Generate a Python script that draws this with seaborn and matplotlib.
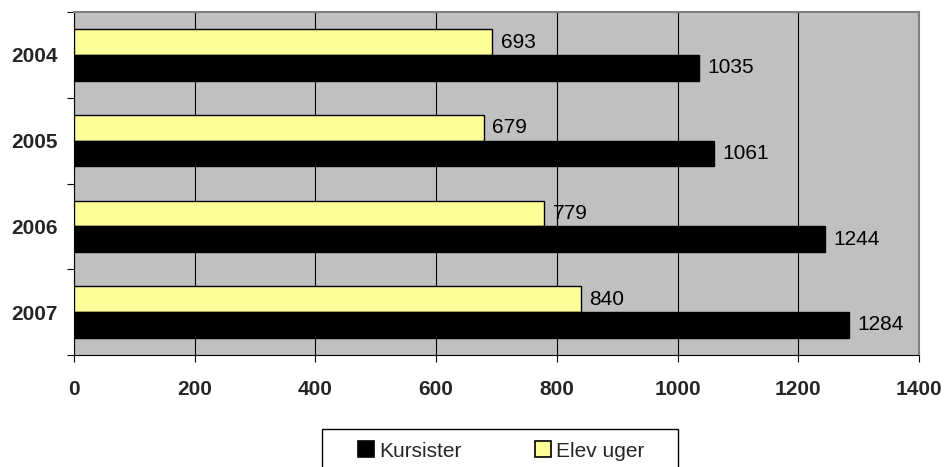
import matplotlib
matplotlib.use("Agg")
import matplotlib.pyplot as plt
from matplotlib.patches import Patch, Rectangle
from matplotlib.ticker import FixedLocator, NullFormatter
import seaborn as sns
import pandas as pd

years = ["2004", "2005", "2006", "2007"]
kursister = [1035, 1061, 1244, 1284]
elev_uger = [693, 679, 779, 840]
series_names = ["Kursister", "Elev uger"]
series_colors = {"Kursister": "#000000", "Elev uger": "#FFFF99"}
x_ticks = [0, 200, 400, 600, 800, 1000, 1200, 1400]

df = pd.DataFrame({
    "year": years * 2,
    "value": kursister + elev_uger,
    "series": ["Kursister"] * len(years) + ["Elev uger"] * len(years),
})

sns.set_style("white")
plt.rcParams["font.family"] = ["Liberation Sans", "DejaVu Sans"]

W, H = 944, 467
fig = plt.figure(figsize=(W / 100, H / 100), dpi=100)
ax = fig.add_axes([0.0784, 0.2398, 0.8951, 0.7345])
ax.set_facecolor("#C0C0C0")

sns.barplot(
    data=df, y="year", x="value", hue="series", order=years,
    hue_order=["Elev uger", "Kursister"], palette=series_colors,
    saturation=1, orient="h", width=0.6, edgecolor="black", linewidth=1.0,
    dodge=True, legend=False, ax=ax, zorder=3,
)

for cont in ax.containers:
    ax.bar_label(cont, fmt="%d", padding=6, fontsize=15, color="black")

ax.set_xlim(0, 1400)
ax.set_ylim(3.5, -0.5)
ax.xaxis.set_major_locator(FixedLocator(x_ticks))
ax.set_xticklabels([str(t) for t in x_ticks], fontsize=15, fontweight="bold")
ax.grid(axis="x", color="#000000", linewidth=0.8, zorder=0)
ax.set_axisbelow(True)

# y ticks at category boundaries, labels at category centers
ax.yaxis.set_major_locator(FixedLocator([-0.5, 0.5, 1.5, 2.5, 3.5]))
ax.yaxis.set_major_formatter(NullFormatter())
ax.yaxis.set_minor_locator(FixedLocator([0, 1, 2, 3]))
ax.set_yticklabels(years, minor=True, fontsize=15, fontweight="bold")
ax.tick_params(axis="y", which="minor", length=0, pad=12)
ax.tick_params(axis="both", which="major", direction="out", length=5,
               width=0.8, color="black", left=True, bottom=True)
ax.tick_params(axis="x", pad=13)

ax.set_xlabel("")
ax.set_ylabel("")

for side in ["top", "right"]:
    ax.spines[side].set_color("#808080")
    ax.spines[side].set_linewidth(1.5)
for side in ["left", "bottom"]:
    ax.spines[side].set_color("black")
    ax.spines[side].set_linewidth(0.8)

# legend entries, with a wide frame drawn around them
handles = [Patch(facecolor=series_colors[n], edgecolor="black", linewidth=1.2)
           for n in series_names]
fig.legend(
    handles, series_names, loc="center left",
    bbox_to_anchor=(358 / W, 1 - 451 / H),
    ncol=2, frameon=False, fontsize=15,
    handlelength=0.77, handleheight=0.77, handletextpad=0.25, columnspacing=3.5,
    borderpad=0, borderaxespad=0,
)
fig.patches.append(Rectangle(
    (322 / W, -0.05), 356 / W, (H - 429) / H + 0.05,
    transform=fig.transFigure, fill=False, edgecolor="black", linewidth=1.0,
))

fig.savefig("out.png", dpi=100, facecolor="white")
